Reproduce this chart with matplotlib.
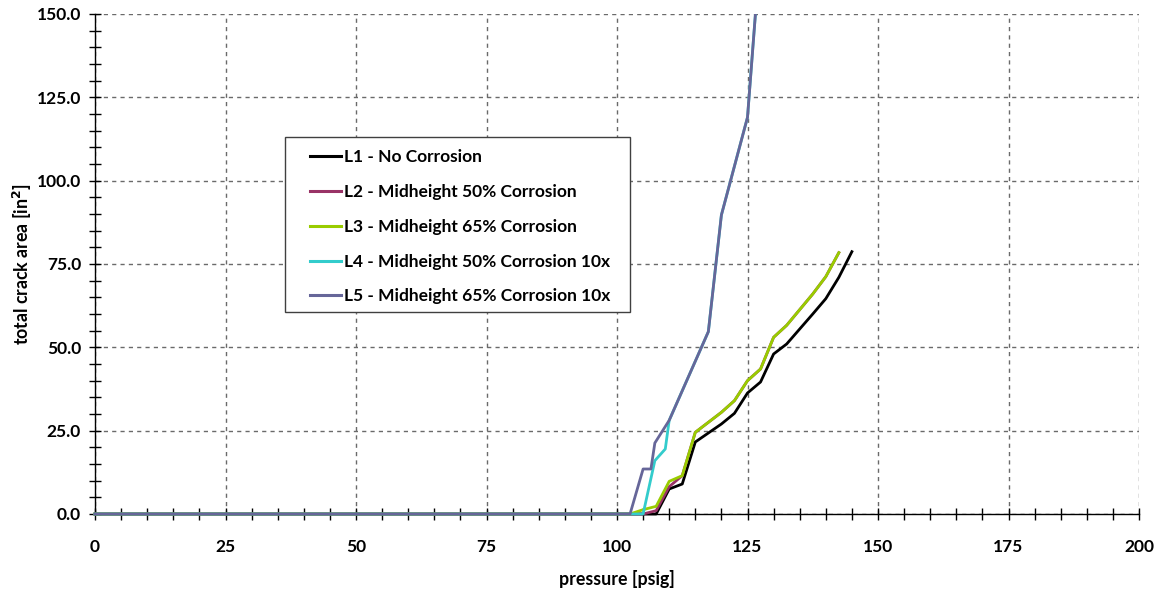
import matplotlib
matplotlib.use('Agg')
import matplotlib.pyplot as plt
from matplotlib.ticker import MultipleLocator, FormatStrFormatter
from matplotlib.patches import Rectangle
from matplotlib.transforms import Bbox, TransformedBbox

plt.rcParams['font.family'] = ['Lato', 'DejaVu Sans']
plt.rcParams['font.weight'] = 'bold'

# crack area vs. pressure for each load case
L1_p = [0, 107.5, 110, 112.5, 115, 117.5, 120, 122.5, 125, 127.5, 130, 132.5, 135, 137.5, 140, 142.5, 145]
L1_a = [0, 0, 7.5, 9.0, 21.6, 24.3, 27.0, 30.2, 36.3, 39.6, 48.0, 51.0, 55.5, 60.0, 64.6, 71.0, 78.7]

L2_p = [0, 105, 107.5, 110, 112.5, 115, 117.5, 120, 122.5, 125, 127.5, 130, 132.5, 135, 137.5, 140, 142.5]
L2_a = [0, 0, 1.0, 8.2, 11.5, 24.5, 27.5, 30.5, 34.0, 40.0, 43.5, 53.0, 56.6, 61.3, 66.0, 71.2, 78.4]

L3_p = [0, 102.5, 105, 107.5, 110, 112.5, 115, 117.5, 120, 122.5, 125, 127.5, 130, 132.5, 135, 137.5, 140, 142.5]
L3_a = [0, 0, 1.3, 2.3, 9.8, 11.5, 24.5, 27.5, 30.5, 34.0, 40.0, 43.5, 53.0, 56.6, 61.3, 66.0, 71.2, 78.4]

L4_p = [0, 105, 107.25, 109.25, 110, 117.5, 120, 125, 127.5]
L4_a = [0, 0, 16.0, 19.5, 28.1, 54.7, 89.7, 119.0, 170.0]

L5_p = [0, 102.5, 105, 106.5, 107.25, 110, 117.5, 120, 125, 127.5]
L5_a = [0, 0, 13.5, 13.5, 21.3, 28.1, 54.7, 89.7, 119.0, 170.0]

series = [
    (L1_p, L1_a, 'L1 - No Corrosion', '#000000'),
    (L2_p, L2_a, 'L2 - Midheight 50% Corrosion', '#993366'),
    (L3_p, L3_a, 'L3 - Midheight 65% Corrosion', '#99CC00'),
    (L4_p, L4_a, 'L4 - Midheight 50% Corrosion 10x', '#33CCCC'),
    (L5_p, L5_a, 'L5 - Midheight 65% Corrosion 10x', '#666699'),
]

fig = plt.figure(figsize=(11.61, 5.94), dpi=100)
ax = fig.add_axes([95/1161, 80/594, 1044/1161, 500/594])

# clip only at the top/sides so the zero segments are drawn full width
clip = TransformedBbox(Bbox([[-0.01, -0.05], [1.01, 1.0]]), ax.transAxes)
for p, a, label, color in series:
    ln, = ax.plot(p, a, color=color, lw=2.0, label=label, zorder=3)
    ln.set_clip_box(clip)

ax.set_xlim(0, 200)
ax.set_ylim(0, 150)
ax.xaxis.set_major_locator(MultipleLocator(25))
ax.xaxis.set_minor_locator(MultipleLocator(5))
ax.yaxis.set_major_locator(MultipleLocator(25))
ax.yaxis.set_minor_locator(MultipleLocator(5))
ax.yaxis.set_major_formatter(FormatStrFormatter('%.1f'))

ax.grid(True, which='major', color='#6a6a6a', linestyle=(0, (3, 3)), linewidth=1.0)
ax.tick_params(which='both', direction='inout', length=8, width=1.0, color='black',
               labelsize=12.5, top=False, right=False)
ax.tick_params(axis='x', pad=14)
ax.tick_params(axis='y', pad=6)

for side in ['top', 'right']:
    ax.spines[side].set_visible(False)
for side in ['left', 'bottom']:
    ax.spines[side].set_color('black')
    ax.spines[side].set_linewidth(1.0)

ax.set_xlabel('pressure [psig]', fontsize=12.8, fontweight='bold', labelpad=11)
ax.set_ylabel('total crack area [in$^\\mathbf{2}$]', fontsize=12.8, fontweight='bold', labelpad=2)

# legend box
box = Rectangle((285/1161, 1 - 312/594), 345/1161, 175/594,
                transform=fig.transFigure, facecolor='white',
                edgecolor='#404040', linewidth=1.0, zorder=4, clip_on=False)
ax.add_patch(box)
leg = ax.legend(loc='upper left', bbox_to_anchor=(307/1161, 1 - 146/594),
                bbox_transform=fig.transFigure, fontsize=12.5, frameon=False,
                handlelength=1.75, handletextpad=0.2, labelspacing=1.08,
                borderpad=0.2, borderaxespad=0)
leg.set_zorder(5)
for line in leg.get_lines():
    line.set_linewidth(2.2)

fig.savefig('out.png', dpi=100, facecolor='white')
